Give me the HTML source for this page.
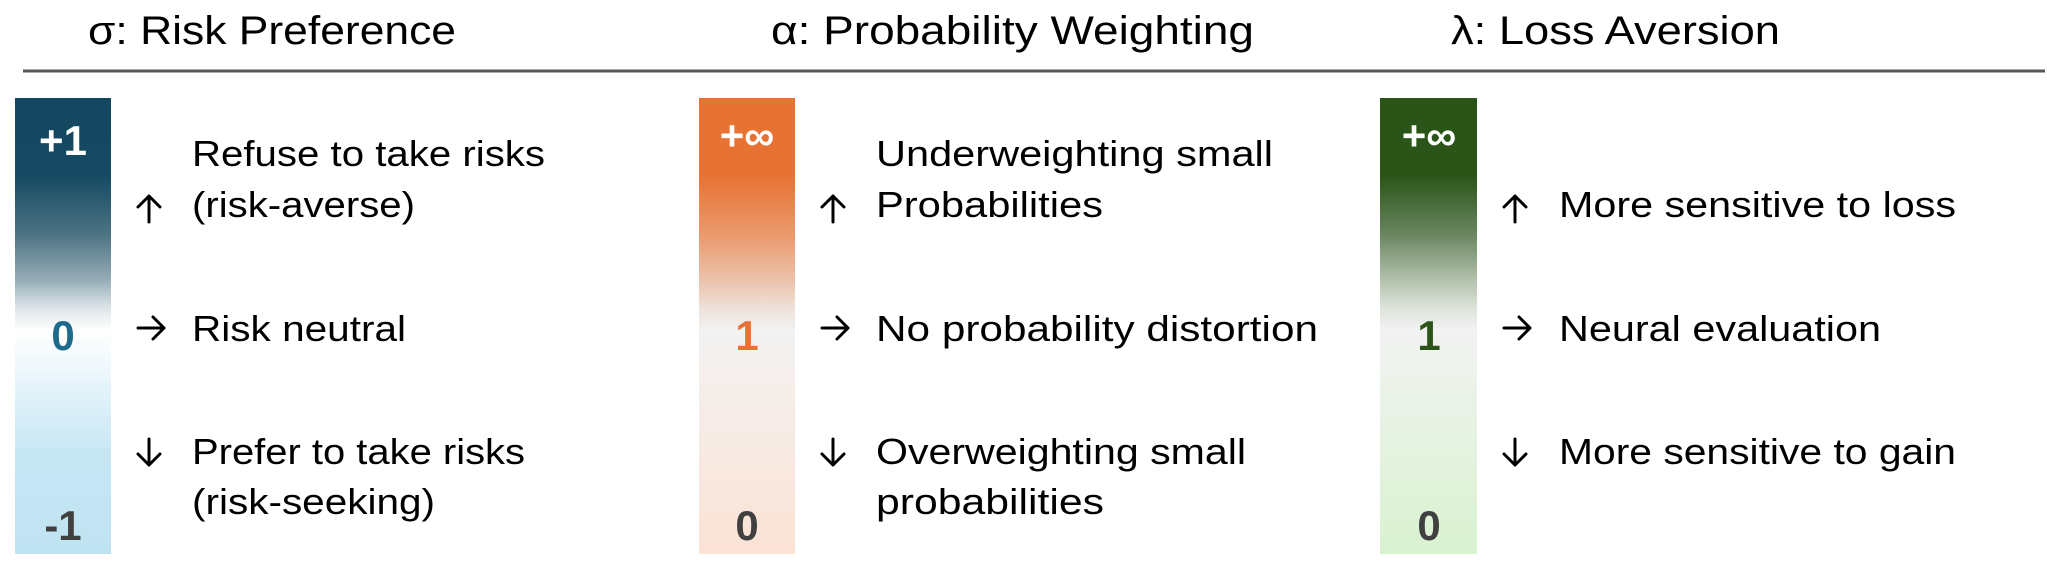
<!DOCTYPE html>
<html><head><meta charset="utf-8"><style>
html,body{margin:0;padding:0;background:#fff;}
svg{display:block;}
text{font-family:"Liberation Sans",sans-serif;}
.t{font-size:40px;fill:#000;}
.d{font-size:36px;fill:#000;}
.v{font-size:42px;font-weight:bold;text-anchor:middle;}
.ar{fill:none;stroke:#000;stroke-width:3;stroke-linecap:round;stroke-linejoin:round;}
</style></head><body>
<svg width="2047" height="563" viewBox="0 0 2047 563">
<defs>
<linearGradient id="gb" x1="0" y1="0" x2="0" y2="1">
<stop offset="0" stop-color="#134760"/><stop offset="0.17" stop-color="#164a63"/><stop offset="0.3" stop-color="#4d7384"/><stop offset="0.4" stop-color="#97adb8"/><stop offset="0.46" stop-color="#dde5e9"/><stop offset="0.51" stop-color="#ffffff"/><stop offset="0.78" stop-color="#c6e6f4"/><stop offset="1" stop-color="#c0e3f2"/>
</linearGradient>
<linearGradient id="go" x1="0" y1="0" x2="0" y2="1">
<stop offset="0" stop-color="#e87232"/><stop offset="0.17" stop-color="#e87232"/><stop offset="0.3" stop-color="#eb996d"/><stop offset="0.4" stop-color="#ecc2ab"/><stop offset="0.46" stop-color="#eee0d8"/><stop offset="0.51" stop-color="#f2f2f2"/><stop offset="1" stop-color="#fbe2d5"/>
</linearGradient>
<linearGradient id="gg" x1="0" y1="0" x2="0" y2="1">
<stop offset="0" stop-color="#2a5418"/><stop offset="0.17" stop-color="#2a5418"/><stop offset="0.3" stop-color="#6a8660"/><stop offset="0.4" stop-color="#b3c2ad"/><stop offset="0.46" stop-color="#dde3da"/><stop offset="0.51" stop-color="#f2f2f2"/><stop offset="1" stop-color="#d9f2d0"/>
</linearGradient>
<g id="up"><path class="ar" d="M0 -13 L0 13 M-11 -2 L0 -13 L11 -2"/></g>
<g id="rt"><path class="ar" d="M-13 0 L13 0 M2 -11 L13 0 L2 11"/></g>
<g id="dn"><path class="ar" d="M0 -13 L0 13 M-11 2 L0 13 L11 2"/></g>
</defs>
<rect x="23" y="69.5" width="2022" height="3" fill="#595959"/>

<g>
<text class="t" x="88" y="44" textLength="368" lengthAdjust="spacingAndGlyphs">σ: Risk Preference</text>
<rect x="15" y="98" width="96" height="456" fill="url(#gb)"/>
<text class="v" x="63" y="155" fill="#fff">+1</text>
<text class="v" x="63" y="350" fill="#1d6a8a">0</text>
<text class="v" x="63" y="540" fill="#404040">-1</text>
<use href="#up" x="149" y="209"/>
<use href="#rt" x="151" y="328"/>
<use href="#dn" x="149" y="452"/>
<text class="d" x="192" y="166" textLength="353" lengthAdjust="spacingAndGlyphs">Refuse to take risks</text>
<text class="d" x="192" y="217" textLength="223" lengthAdjust="spacingAndGlyphs">(risk-averse)</text>
<text class="d" x="192" y="341" textLength="214" lengthAdjust="spacingAndGlyphs">Risk neutral</text>
<text class="d" x="192" y="464" textLength="333" lengthAdjust="spacingAndGlyphs">Prefer to take risks</text>
<text class="d" x="192" y="514" textLength="243" lengthAdjust="spacingAndGlyphs">(risk-seeking)</text>
</g>

<g>
<text class="t" x="771" y="44" textLength="483" lengthAdjust="spacingAndGlyphs">α: Probability Weighting</text>
<rect x="699" y="98" width="96" height="456" fill="url(#go)"/>
<text class="v" x="747" y="150" fill="#fff">+∞</text>
<text class="v" x="747" y="350" fill="#e87232">1</text>
<text class="v" x="747" y="540" fill="#404040">0</text>
<use href="#up" x="833" y="209"/>
<use href="#rt" x="835" y="328"/>
<use href="#dn" x="833" y="452"/>
<text class="d" x="876" y="166" textLength="397" lengthAdjust="spacingAndGlyphs">Underweighting small</text>
<text class="d" x="876" y="217" textLength="227" lengthAdjust="spacingAndGlyphs">Probabilities</text>
<text class="d" x="876" y="341" textLength="442" lengthAdjust="spacingAndGlyphs">No probability distortion</text>
<text class="d" x="876" y="464" textLength="370" lengthAdjust="spacingAndGlyphs">Overweighting small</text>
<text class="d" x="876" y="514" textLength="228" lengthAdjust="spacingAndGlyphs">probabilities</text>
</g>

<g>
<text class="t" x="1451" y="44" textLength="329" lengthAdjust="spacingAndGlyphs">λ: Loss Aversion</text>
<rect x="1380" y="98" width="97" height="456" fill="url(#gg)"/>
<text class="v" x="1429" y="150" fill="#fff">+∞</text>
<text class="v" x="1429" y="350" fill="#2a5418">1</text>
<text class="v" x="1429" y="540" fill="#404040">0</text>
<use href="#up" x="1515" y="209"/>
<use href="#rt" x="1517" y="328"/>
<use href="#dn" x="1515" y="452"/>
<text class="d" x="1559" y="217" textLength="397" lengthAdjust="spacingAndGlyphs">More sensitive to loss</text>
<text class="d" x="1559" y="341" textLength="322" lengthAdjust="spacingAndGlyphs">Neural evaluation</text>
<text class="d" x="1559" y="464" textLength="397" lengthAdjust="spacingAndGlyphs">More sensitive to gain</text>
</g>
</svg>
</body></html>
